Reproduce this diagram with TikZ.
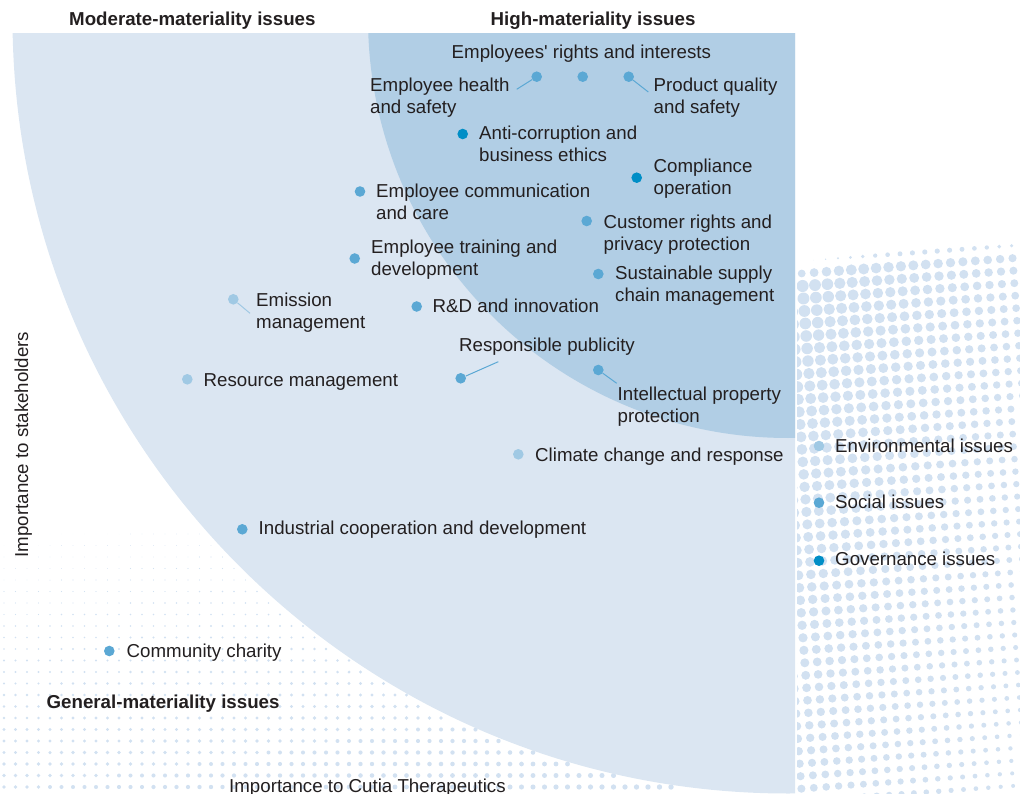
\documentclass[tikz,border=0pt]{standalone}
\usepackage{xcolor}
\usepackage{fontspec}
\setmainfont{Liberation Sans}
\usepackage{tikz}

\begin{document}
\begin{tikzpicture}[x=1pt,y=-1pt,
		lbl/.style={anchor=north west,inner sep=0pt,align=left,text=txtgray,font=\fontsize{18.7}{22}\selectfont,yshift=15.4pt},
		hd/.style={lbl,font=\fontsize{18.7}{22}\selectfont\bfseries},
		axl/.style={anchor=base west,inner sep=0pt,text=txtgray,font=\fontsize{18.7}{22}\selectfont},
		dot/.style={circle,inner sep=0pt,minimum size=10.6pt},
		envdot/.style={dot,fill=envc},
		socdot/.style={dot,fill=socc},
		govdot/.style={dot,fill=govc},
		lead/.style={draw=socc,line width=1pt}]
				% 颜色列表
				\definecolor{lightreg}{RGB}{219,230,242}
				\definecolor{darkreg}{RGB}{177,206,229}
				\definecolor{envc}{RGB}{160,201,228}
				\definecolor{socc}{RGB}{91,168,212}
				\definecolor{govc}{RGB}{0,142,198}
				\definecolor{halftone}{RGB}{210,225,241}
				\definecolor{txtgray}{RGB}{35,31,32}
				\useasboundingbox (0,0) rectangle (1020,794);
				
				% 右侧网点
				\begin{scope}
				\clip (797,220) rectangle (1020,794);
				\foreach \i in {-4,...,18}
				\foreach \j in {0,...,46} {
					\pgfmathsetmacro\px{799+12.4*\i+0.9*\j}
					\pgfmathsetmacro\py{236+12.5*\j-0.9*\i}
					\pgfmathsetmacro\yt{238+25*((1020-\px)/223)^2}
					\pgfmathsetmacro\rr{max(0,(6.2-4.3*((\px-800)/220+(\py-250)/544)/2)*min(1,(\py-\yt)/18))}
					\fill[halftone] (\px,\py) circle (\rr pt);
				}
				\end{scope}
				
				% 左下网点
				\begin{scope}
				\clip (0,520) rectangle (797,794);
				\foreach \i in {0,...,69}
				\foreach \j in {0,...,23} {
					\pgfmathsetmacro\px{4+11.5*\i}
					\pgfmathsetmacro\py{534+11.5*\j}
					\pgfmathsetmacro\dd{veclen((\px-788)/100,(\py-18)/100)}
					\pgfmathsetmacro\rr{(\dd>7.77)*max(0,0.3+2.6*((\py-560)/234*0.65+\px/800*0.35))}
					\fill[halftone] (\px,\py) circle (\rr pt);
				}
				\end{scope}
				
				% 中、高重要性区域
				\begin{scope}
				\clip (12,34) rectangle (795,794);
				\fill[lightreg] (788,18) circle (775.5pt);
				\fill[darkreg] (788,18) circle (420pt);
				\end{scope}
				
				% 标题
				\node[hd] (mod) at (69,25) {\strut Moderate-materiality issues};
				\node[hd] (high) at (490.5,25) {\strut High-materiality issues};
				\node[hd] (gen) at (46.5,708) {\strut General-materiality issues};
				\node[axl] (xax) at (229,792) {Importance to Cutia Therapeutics};
				\node[axl,rotate=90] (yax) at (28,557.5) {Importance to stakeholders};
				
				% 议题圆点
				\node[socdot] (ehs-d) at (536.7,76.7) {};
				\node[socdot] (eri-d) at (582.7,76.7) {};
				\node[socdot] (pqs-d) at (628.7,76.7) {};
				\node[govdot] (acb-d) at (462.7,134) {};
				\node[govdot] (cop-d) at (636.7,177.7) {};
				\node[socdot] (ecc-d) at (360,191.5) {};
				\node[socdot] (crp-d) at (586.7,221) {};
				\node[socdot] (etd-d) at (354.7,258.5) {};
				\node[socdot] (ssc-d) at (598.3,274) {};
				\node[envdot] (emm-d) at (233.3,299.3) {};
				\node[socdot] (rdi-d) at (416.7,306.5) {};
				\node[socdot] (rpu-d) at (460.7,378.3) {};
				\node[envdot] (rem-d) at (187.3,379.3) {};
				\node[socdot] (ipp-d) at (598.3,370) {};
				\node[envdot] (ccr-d) at (518.3,454.3) {};
				\node[socdot] (icd-d) at (242.3,529.3) {};
				\node[socdot] (cch-d) at (109.3,651) {};
				
				% 议题名称
				\node[lbl] (eri) at (451.5,58) {\strut Employees\textquotesingle\ rights and interests};
				\node[lbl] (ehs) at (370,91) {\strut Employee health\\and safety};
				\node[lbl] (pqs) at (653.5,91) {\strut Product quality\\and safety};
				\node[lbl] (acb) at (479,139) {\strut Anti-corruption and\\business ethics};
				\node[lbl] (cop) at (653.5,172) {\strut Compliance\\operation};
				\node[lbl] (ecc) at (376,197) {\strut Employee communication\\and care};
				\node[lbl] (crp) at (603.5,228) {\strut Customer rights and\\privacy protection};
				\node[lbl] (etd) at (371,253) {\strut Employee training and\\development};
				\node[lbl] (ssc) at (615,279) {\strut Sustainable supply\\chain management};
				\node[lbl] (emm) at (256,306) {\strut Emission\\management};
				\node[lbl] (rdi) at (432.5,312) {\strut R\&D and innovation};
				\node[lbl] (rpu) at (459,351) {\strut Responsible publicity};
				\node[lbl] (rem) at (203.5,386) {\strut Resource management};
				\node[lbl] (ipp) at (617.5,400) {\strut Intellectual property\\protection};
				\node[lbl] (ccr) at (535,461) {\strut Climate change and response};
				\node[lbl] (icd) at (258.5,534) {\strut Industrial cooperation and development};
				\node[lbl] (cch) at (126.5,657) {\strut Community charity};
				
				% 引线
				\coordinate (ehs-e) at (516.7,89.3);
				\coordinate (pqs-e) at (648.3,92);
				\coordinate (emm-e) at (250,313.3);
				\coordinate (rpu-e) at (498.3,361.7);
				\coordinate (ipp-e) at (616.7,383.3);
				\draw[lead] (ehs-d) -- (ehs-e);
				\draw[lead] (pqs-d) -- (pqs-e);
				\draw[lead,draw=envc] (emm-d) -- (emm-e);
				\draw[lead] (rpu-d) -- (rpu-e);
				\draw[lead] (ipp-d) -- (ipp-e);
				
				% 图例
				\node[envdot] (env-d) at (819,446) {};
				\node[socdot] (soc-d) at (819,502.7) {};
				\node[govdot] (gov-d) at (819,560.7) {};
				\node[lbl] (env) at (835,452) {\strut Environmental issues};
				\node[lbl] (soc) at (835,508) {\strut Social issues};
				\node[lbl] (gov) at (835,565) {\strut Governance issues};
				
			\end{tikzpicture}
\end{document}
